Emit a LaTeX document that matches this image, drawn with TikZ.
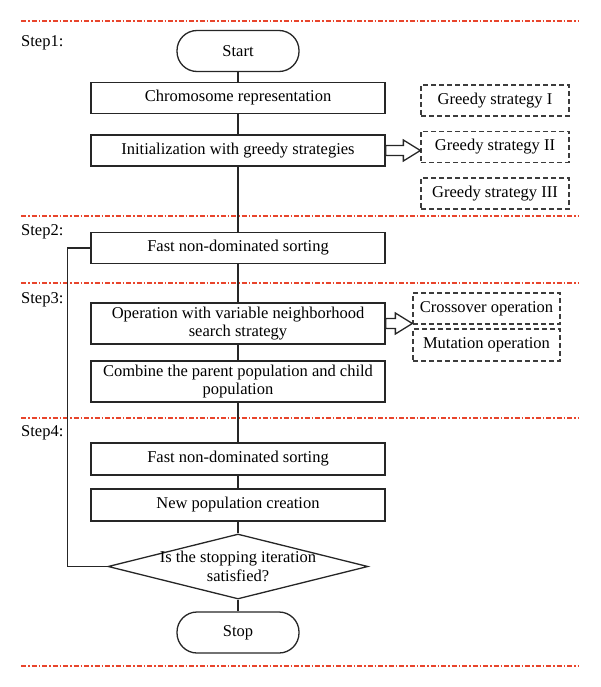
\documentclass[tikz,border=0pt]{standalone}
\usepackage{fontspec}
\setmainfont{Liberation Serif}
\usetikzlibrary{shapes.geometric,calc}
\definecolor{sepred}{HTML}{E8452C}
\definecolor{edgegray}{HTML}{3C3C3C}

\begin{document}
\begin{tikzpicture}[x=1pt,y=-1pt,
  every node/.style={font=\fontsize{16.5}{18.5}\selectfont, text=black},
  process/.style={draw=black!85, line width=1.3pt, minimum width=294pt,
    minimum height=31pt, inner sep=2pt, align=center},
  tall/.style={process, minimum height=41pt},
  terminal/.style={draw=black!85, line width=1.3pt, rounded corners=20pt,
    minimum width=122pt, minimum height=41pt},
  decision/.style={draw=black!85, line width=1.3pt, shape=diamond,
    minimum width=260pt, minimum height=65pt, inner sep=0pt},
  strategy/.style={draw=edgegray, line width=1.3pt, dash pattern=on 5pt off 3pt,
    minimum width=148pt, minimum height=31pt, inner sep=2pt},
  steplabel/.style={anchor=west, inner sep=0pt},
  line/.style={draw=black!85, line width=1.3pt},
  fatarrow/.style={draw=black!85, line width=1.3pt, fill=white},
  sepline/.style={draw=sepred, line width=1.1pt,
    dash pattern=on 5pt off 2pt on 1.5pt off 2pt}
]

\newcommand\hollowarrow[2]{%
\draw[fatarrow] let \p1=(#1), \p2=(#2) in
  (\x1,\y1+5pt) -- (\x2-17pt,\y1+5pt) -- (\x2-17pt,\y1+10.5pt) -- (\x2,\y1)
  -- (\x2-17pt,\y1-10.5pt) -- (\x2-17pt,\y1-5pt) -- (\x1,\y1-5pt) -- cycle;}

\useasboundingbox (0,0) rectangle (600,687);

%% step separators
\foreach \y in {21,216,283,418,666}
  \draw[sepline] (21,\y) -- (579,\y);

\node[steplabel] (s1) at (21,43) {Step1:};
\node[steplabel] (s2) at (21,232) {Step2:};
\node[steplabel] (s3) at (21,300) {Step3:};
\node[steplabel] (s4) at (21,433) {Step4:};

%% main flow
\node[terminal] (start) at (238,51) {Start};
\node[process] (chrom) at (238,97.8) {Chromosome representation};
\node[process] (init) at (238,150.5) {Initialization with greedy strategies};
\node[process] (fast1) at (238,248) {Fast non-dominated sorting};
\node[tall] (oper) at (238,323.5)
  {Operation with variable neighborhood\\search strategy};
\node[tall] (comb) at (238,381.5)
  {Combine the parent population and child\\population};
\node[process, minimum height=32pt] (fast2) at (238,459) {Fast non-dominated sorting};
\node[process, minimum height=32pt] (newpop) at (238,505) {New population creation};
\node[decision, label={[align=center]center:Is the stopping iteration\\satisfied?}]
  (check) at (238,566.5) {};
\node[terminal] (stop) at (238,632.5) {Stop};

%% side boxes
\node[strategy] (g1) at (495,100.5) {Greedy strategy I};
\node[strategy] (g2) at (495,146.7) {Greedy strategy II};
\node[strategy] (g3) at (495,193.5) {Greedy strategy III};
\node[strategy, minimum width=147pt] (cross) at (486.5,308.5) {Crossover operation};
\node[strategy, minimum width=147pt, minimum height=32pt] (mut) at (486.5,345)
  {Mutation operation};

\draw[line] (start) -- (chrom);
\draw[line] (chrom) -- (init);
\draw[line] (init) -- (fast1);
\draw[line] (fast1) -- (oper);
\draw[line] (oper) -- (comb);
\draw[line] (comb) -- (fast2);
\draw[line] (fast2) -- (newpop);
\draw[line] (newpop) -- (check);
\draw[line] (check) -- (stop);
\draw[line] (check.west) -- ++(-40,0) |- (fast1.west); %% loop back

\hollowarrow{init.east}{g2.west |- init.east}
\hollowarrow{oper.east}{cross.west |- oper.east}

\end{tikzpicture}
\end{document}
